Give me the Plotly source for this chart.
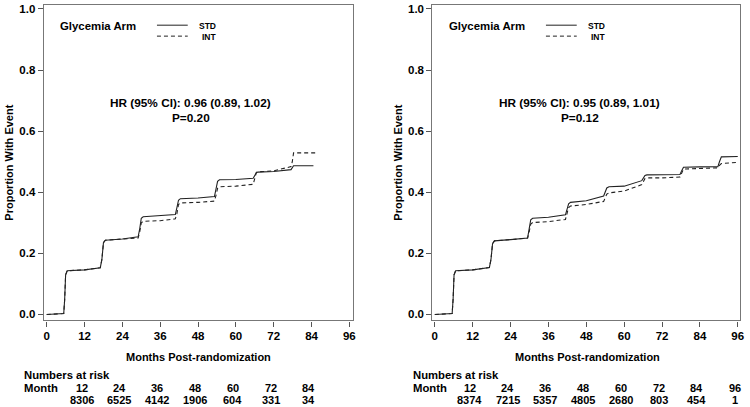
import plotly.graph_objects as go

# cumulative proportion with event
t_l_std = [0, 5.4, 5.7, 6.0, 6.5, 12, 17.0, 17.5, 18.0, 18.6, 24, 29.0, 29.5, 30.0, 30.6, 36, 40.8, 41.3, 41.8, 42.4,
           48, 53.2, 53.7, 54.2, 54.8, 60, 65.5, 66.0, 66.5, 67.0, 72, 77.5, 77.9, 78.3, 84.6]
v_l_std = [0, 0.003, 0.05, 0.13, 0.143, 0.146, 0.153, 0.18, 0.235, 0.243, 0.247, 0.254, 0.28, 0.315, 0.320, 0.323,
           0.327, 0.35, 0.374, 0.379, 0.381, 0.386, 0.41, 0.436, 0.441, 0.442, 0.446, 0.455, 0.464, 0.466, 0.468,
           0.474, 0.48, 0.487, 0.487]
t_l_int = [0, 5.4, 5.7, 6.0, 6.5, 12, 17.0, 17.5, 18.0, 18.6, 24, 29.0, 29.5, 30.0, 30.6, 36, 40.8, 41.3, 41.8, 42.4,
           48, 53.2, 53.7, 54.2, 54.8, 60, 65.5, 66.0, 66.5, 67.0, 72, 77.5, 77.9, 78.3, 85.4]
v_l_int = [0, 0.003, 0.05, 0.13, 0.143, 0.146, 0.153, 0.18, 0.235, 0.243, 0.247, 0.250, 0.27, 0.300, 0.305, 0.307,
           0.313, 0.33, 0.360, 0.365, 0.367, 0.371, 0.39, 0.413, 0.418, 0.420, 0.426, 0.45, 0.465, 0.467, 0.470,
           0.484, 0.50, 0.529, 0.529]

t_r = [0, 5.5, 5.8, 6.1, 6.6, 12, 17.3, 17.8, 18.3, 18.9, 24, 29.4, 29.9, 30.4, 31.0, 36, 41.4, 41.9, 42.4, 43.0,
       48, 53.5, 54.0, 54.5, 55.2, 60, 65.6, 66.1, 66.6, 67.2, 72, 77.7, 78.2, 78.8, 84, 89.7, 90.2, 90.8, 96]
v_r_std = [0, 0.003, 0.05, 0.13, 0.143, 0.146, 0.154, 0.18, 0.232, 0.241, 0.245, 0.250, 0.28, 0.310, 0.315, 0.318,
           0.326, 0.345, 0.362, 0.367, 0.372, 0.388, 0.40, 0.414, 0.418, 0.420, 0.438, 0.445, 0.455, 0.457, 0.457,
           0.458, 0.47, 0.482, 0.483, 0.484, 0.50, 0.516, 0.517]
v_r_int = [0, 0.003, 0.05, 0.13, 0.143, 0.146, 0.154, 0.18, 0.232, 0.241, 0.245, 0.250, 0.27, 0.296, 0.301, 0.304,
           0.311, 0.33, 0.350, 0.355, 0.360, 0.370, 0.38, 0.394, 0.398, 0.404, 0.425, 0.435, 0.445, 0.447, 0.447,
           0.450, 0.46, 0.476, 0.478, 0.480, 0.488, 0.494, 0.498]

# numbers at risk
risk_months_l = [12, 24, 36, 48, 60, 72, 84]
risk_counts_l = [8306, 6525, 4142, 1906, 604, 331, 34]
risk_months_r = [12, 24, 36, 48, 60, 72, 84, 96]
risk_counts_r = [8374, 7215, 5357, 4805, 2680, 803, 454, 1]

hr_text_l = ["HR (95% CI): 0.96 (0.89, 1.02)", "P=0.20"]
hr_text_r = ["HR (95% CI): 0.95 (0.89, 1.01)", "P=0.12"]

W, H = 750, 407
FONT = "Liberation Sans, Arial, sans-serif"


def px(x):
    return x / W


def py(y):
    return 1 - y / H


fig = go.Figure()
line_std = dict(color="#222222", width=1.1)
line_int = dict(color="#222222", width=1.1, dash="4px,3px")
fig.add_trace(go.Scatter(x=t_l_std, y=v_l_std, mode="lines", line=line_std, xaxis="x", yaxis="y"))
fig.add_trace(go.Scatter(x=t_l_int, y=v_l_int, mode="lines", line=line_int, xaxis="x", yaxis="y"))
fig.add_trace(go.Scatter(x=t_r, y=v_r_std, mode="lines", line=line_std, xaxis="x2", yaxis="y2"))
fig.add_trace(go.Scatter(x=t_r, y=v_r_int, mode="lines", line=line_int, xaxis="x2", yaxis="y2"))

tickfont = dict(family=FONT, size=11.5, color="black", weight="bold")
ax_common = dict(showline=True, mirror=True, linecolor="#777777", linewidth=1.2, ticks="outside",
                 ticklen=5, tickcolor="#555555", showgrid=False, zeroline=False, tickfont=tickfont)
ydom = [py(320), py(3)]
fig.update_layout(
    width=W, height=H, margin=dict(l=0, r=0, t=0, b=0),
    paper_bgcolor="white", plot_bgcolor="white", showlegend=False,
    xaxis=dict(domain=[px(43), px(354)], range=[-0.95, 97.04], tickvals=list(range(0, 97, 12)),
               anchor="y", **ax_common),
    yaxis=dict(domain=ydom, range=[-0.0195, 1.013], tickvals=[0, 0.2, 0.4, 0.6, 0.8, 1.0],
               tickformat=".1f", anchor="x", **ax_common),
    xaxis2=dict(domain=[px(434.3), px(744)], range=[-0.76, 96.72], tickvals=list(range(0, 97, 12)),
                anchor="y2", **ax_common),
    yaxis2=dict(domain=ydom, range=[-0.0195, 1.013], tickvals=[0, 0.2, 0.4, 0.6, 0.8, 1.0],
                tickformat=".1f", anchor="x2", **ax_common),
)

ann = []


def text(x, y, s, size=12, anchor="left", **kw):
    ann.append(dict(x=x, y=y, xref="paper", yref="paper", text=s, showarrow=False, xanchor=anchor,
                    yanchor="middle", font=dict(family=FONT, size=size, color="black", weight="bold"), **kw))


for off, hr, months, counts, xa in [(0, hr_text_l, risk_months_l, risk_counts_l, "x"),
                                     (391.6, hr_text_r, risk_months_r, risk_counts_r, "x2")]:
    # in-plot legend
    text(px(57.3 + off), py(24), "Glycemia Arm", size=11.4)
    text(px(197 + off), py(24), "STD", size=8.5)
    text(px(200 + off), py(35), "INT", size=8.5)
    fig.add_shape(type="line", xref="paper", yref="paper", x0=px(157 + off), x1=px(188 + off),
                  y0=py(23.3), y1=py(23.3), line=dict(color="#222222", width=1))
    fig.add_shape(type="line", xref="paper", yref="paper", x0=px(157 + off), x1=px(188 + off),
                  y0=py(34.3), y1=py(34.3), line=dict(color="#222222", width=1, dash="4px,3px"))
    # hazard ratio
    text(px(191 + off), py(101.7), hr[0], size=11.8, anchor="center")
    text(px(191 + off), py(116.7), hr[1], size=11.8, anchor="center")
    # axis titles
    text(px(198.5 + off), py(357), "Months Post-randomization", size=11, anchor="center")
    text(px(8 + off), py(161.5), "Proportion With Event", size=11, anchor="center", textangle=-90)
    # risk table
    text(px(20.7 + off), py(375), "Numbers at risk", size=11.3)
    text(px(20.7 + off), py(388.3), "Month", size=11.3)
    for m, c in zip(months, counts):
        for y, s in [(py(388.3), str(m)), (py(400), str(c))]:
            ann.append(dict(x=m, y=y, xref=xa, yref="paper", text=s, showarrow=False, xanchor="center",
                            yanchor="middle", xshift=-3,
                            font=dict(family=FONT, size=11, color="black", weight="bold")))

fig.update_layout(annotations=ann)
# the page is photographed from its top-left corner, so drop the default body margin
fig.write_html("out.html", config={"displayModeBar": False},
               post_script="document.body.style.margin='0';")
